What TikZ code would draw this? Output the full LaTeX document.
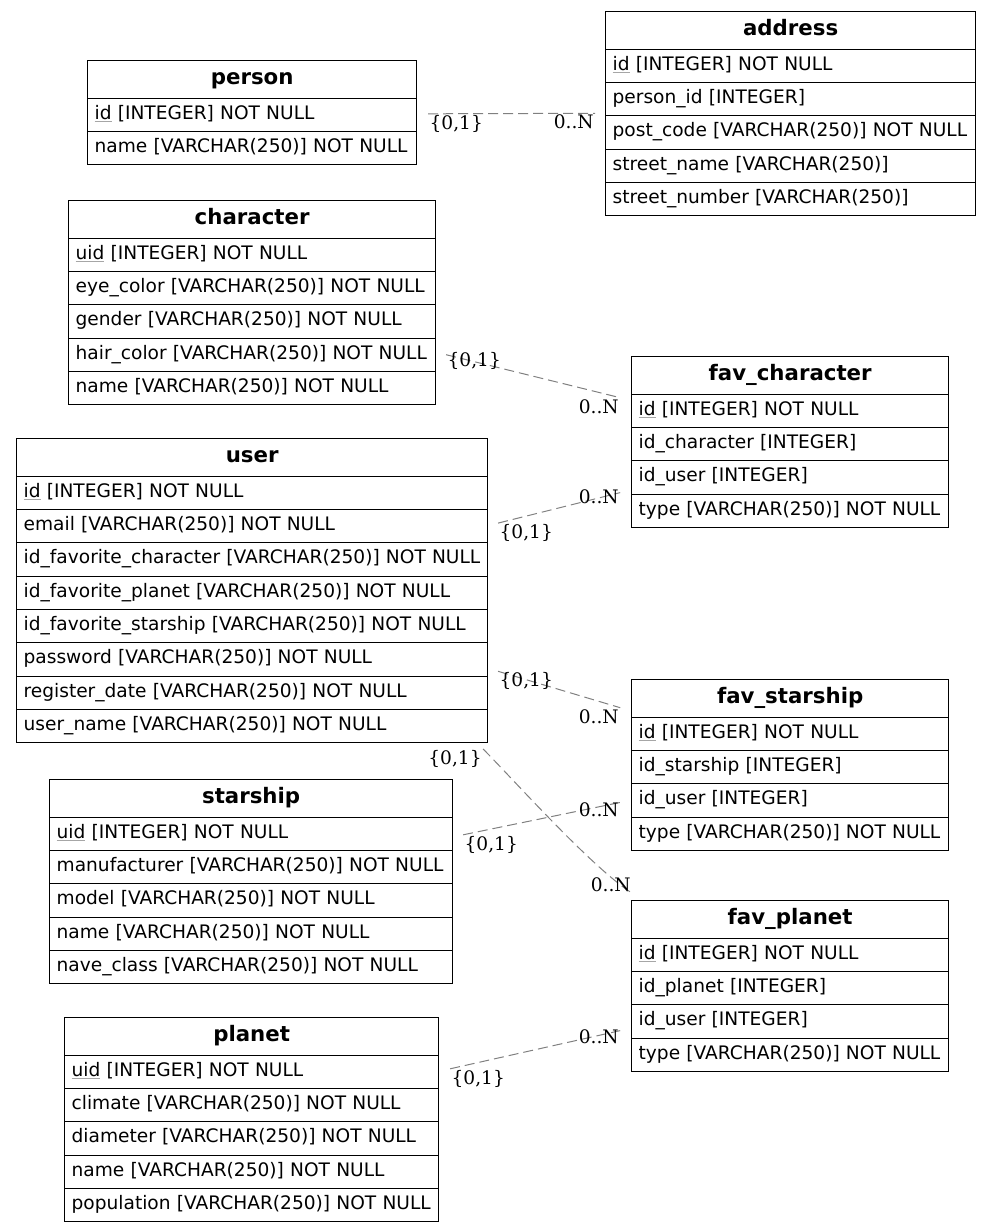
\documentclass[tikz,border=0pt]{standalone}
\usepackage{fontspec}
\setmainfont{DejaVu Sans}
\newfontfamily\cardfont{DejaVu Serif}
\usetikzlibrary{matrix}
\usetikzlibrary{calc}

\newcommand{\pkey}[1]{\textcolor{gray!70}{$\underline{\hbox{\color{black}#1}}$}}

\tikzset{
  field/.style={draw, line width=0.9pt, inner xsep=7pt, inner ysep=0pt, minimum height=33.3pt, align=left, text depth=6pt, text height=15pt, font=\fontsize{18.6}{21}\selectfont},
  hdr/.style={minimum height=37.5pt, align=center, text depth=5pt, text height=16pt, font=\fontsize{21.3}{24}\selectfont\bfseries},
  entity/.style={matrix of nodes, inner sep=0pt, anchor=north west, row sep=-0.9pt, nodes={field, text width=#1}},
  rel/.style={draw=gray, line width=1pt, dash pattern=on 10pt off 5pt},
  card/.style={font=\cardfont\fontsize{18.6}{21}\selectfont, inner sep=1pt},
}

\begin{document}
\begin{tikzpicture}[x=1pt,y=-1pt]
  \useasboundingbox (0,0) rectangle (991,1232);
  \matrix (person) [entity=315pt] at (87,60)
  {
     |[hdr]| person \\
     \pkey{id} [INTEGER] NOT NULL \\
     name [VARCHAR(250)] NOT NULL \\};
  \matrix (address) [entity=356pt] at (605,11)
  {
     |[hdr]| address \\
     \pkey{id} [INTEGER] NOT NULL \\
     person\_id [INTEGER] \\
     post\_code [VARCHAR(250)] NOT NULL \\
     street\_name [VARCHAR(250)] \\
     street\_number [VARCHAR(250)] \\};
  \matrix (character) [entity=353pt] at (68,200)
  {
     |[hdr]| character \\
     \pkey{uid} [INTEGER] NOT NULL \\
     eye\_color [VARCHAR(250)] NOT NULL \\
     gender [VARCHAR(250)] NOT NULL \\
     hair\_color [VARCHAR(250)] NOT NULL \\
     name [VARCHAR(250)] NOT NULL \\};
  \matrix (user) [entity=457pt] at (16,438)
  {
     |[hdr]| user \\
     \pkey{id} [INTEGER] NOT NULL \\
     email [VARCHAR(250)] NOT NULL \\
     id\_favorite\_character [VARCHAR(250)] NOT NULL \\
     id\_favorite\_planet [VARCHAR(250)] NOT NULL \\
     id\_favorite\_starship [VARCHAR(250)] NOT NULL \\
     password [VARCHAR(250)] NOT NULL \\
     register\_date [VARCHAR(250)] NOT NULL \\
     user\_name [VARCHAR(250)] NOT NULL \\};
  \matrix (favchar) [entity=303pt] at (631,356)
  {
     |[hdr]| fav\_character \\
     \pkey{id} [INTEGER] NOT NULL \\
     id\_character [INTEGER] \\
     id\_user [INTEGER] \\
     type [VARCHAR(250)] NOT NULL \\};
  \matrix (favship) [entity=303pt] at (631,679)
  {
     |[hdr]| fav\_starship \\
     \pkey{id} [INTEGER] NOT NULL \\
     id\_starship [INTEGER] \\
     id\_user [INTEGER] \\
     type [VARCHAR(250)] NOT NULL \\};
  \matrix (starship) [entity=389pt] at (49,779)
  {
     |[hdr]| starship \\
     \pkey{uid} [INTEGER] NOT NULL \\
     manufacturer [VARCHAR(250)] NOT NULL \\
     model [VARCHAR(250)] NOT NULL \\
     name [VARCHAR(250)] NOT NULL \\
     nave\_class [VARCHAR(250)] NOT NULL \\};
  \matrix (favplanet) [entity=303pt] at (631,900)
  {
     |[hdr]| fav\_planet \\
     \pkey{id} [INTEGER] NOT NULL \\
     id\_planet [INTEGER] \\
     id\_user [INTEGER] \\
     type [VARCHAR(250)] NOT NULL \\};
  \matrix (planet) [entity=360pt] at (64,1017)
  {
     |[hdr]| planet \\
     \pkey{uid} [INTEGER] NOT NULL \\
     climate [VARCHAR(250)] NOT NULL \\
     diameter [VARCHAR(250)] NOT NULL \\
     name [VARCHAR(250)] NOT NULL \\
     population [VARCHAR(250)] NOT NULL \\};
  \path[rel]
    ($(person-2-1.east)+(11,-1)$) edge node[card,pos=0,anchor=north west] {\{0,1\}}
                                       node[card,pos=1,anchor=north east] {0..N} ($(address-4-1.north west)+(-10,-2)$)
    ($(character-5-1.east)+(10,0)$) edge node[card,pos=0,anchor=west,yshift=-6pt] {\{0,1\}}
                                         node[card,pos=1,anchor=north east] {0..N} ($(favchar-2-1.north west)+(-11,4)$)
    ($(user-3-1.east)+(10,-3)$) edge node[card,pos=0,anchor=north west] {\{0,1\}}
                                     node[card,pos=1,anchor=east,yshift=-4pt] {0..N} ($(favchar-5-1.north west)+(-11,-1)$)
    ($(user-7-1.east)+(10,12)$) edge node[card,pos=0,anchor=north west] {\{0,1\}}
                                     node[card,pos=1,anchor=north east] {0..N} ($(favship-2-1.north west)+(-11,-9)$)
    ($(starship-2-1.east)+(10,1)$) edge node[card,pos=0,anchor=north west] {\{0,1\}}
                                        node[card,pos=1,anchor=east,yshift=-7pt] {0..N} ($(favship-4-1.west)+(-11,2)$)
    ($(planet-2-1.east)+(11,-3)$) edge node[card,pos=0,anchor=north west] {\{0,1\}}
                                       node[card,pos=1,anchor=east,yshift=-6pt] {0..N} ($(favplanet-5-1.north west)+(-11,-7)$);
  \draw[rel] ($(user-9-1.south east)+(-5,6)$) .. controls +(28,28) and +(-40,-25) .. ($(favplanet-1-1.north west)+(1,-7)$)
    node[card,pos=0,anchor=north east] {\{0,1\}}
    node[card,pos=1,anchor=south east] {0..N};
\end{tikzpicture}
\end{document}
